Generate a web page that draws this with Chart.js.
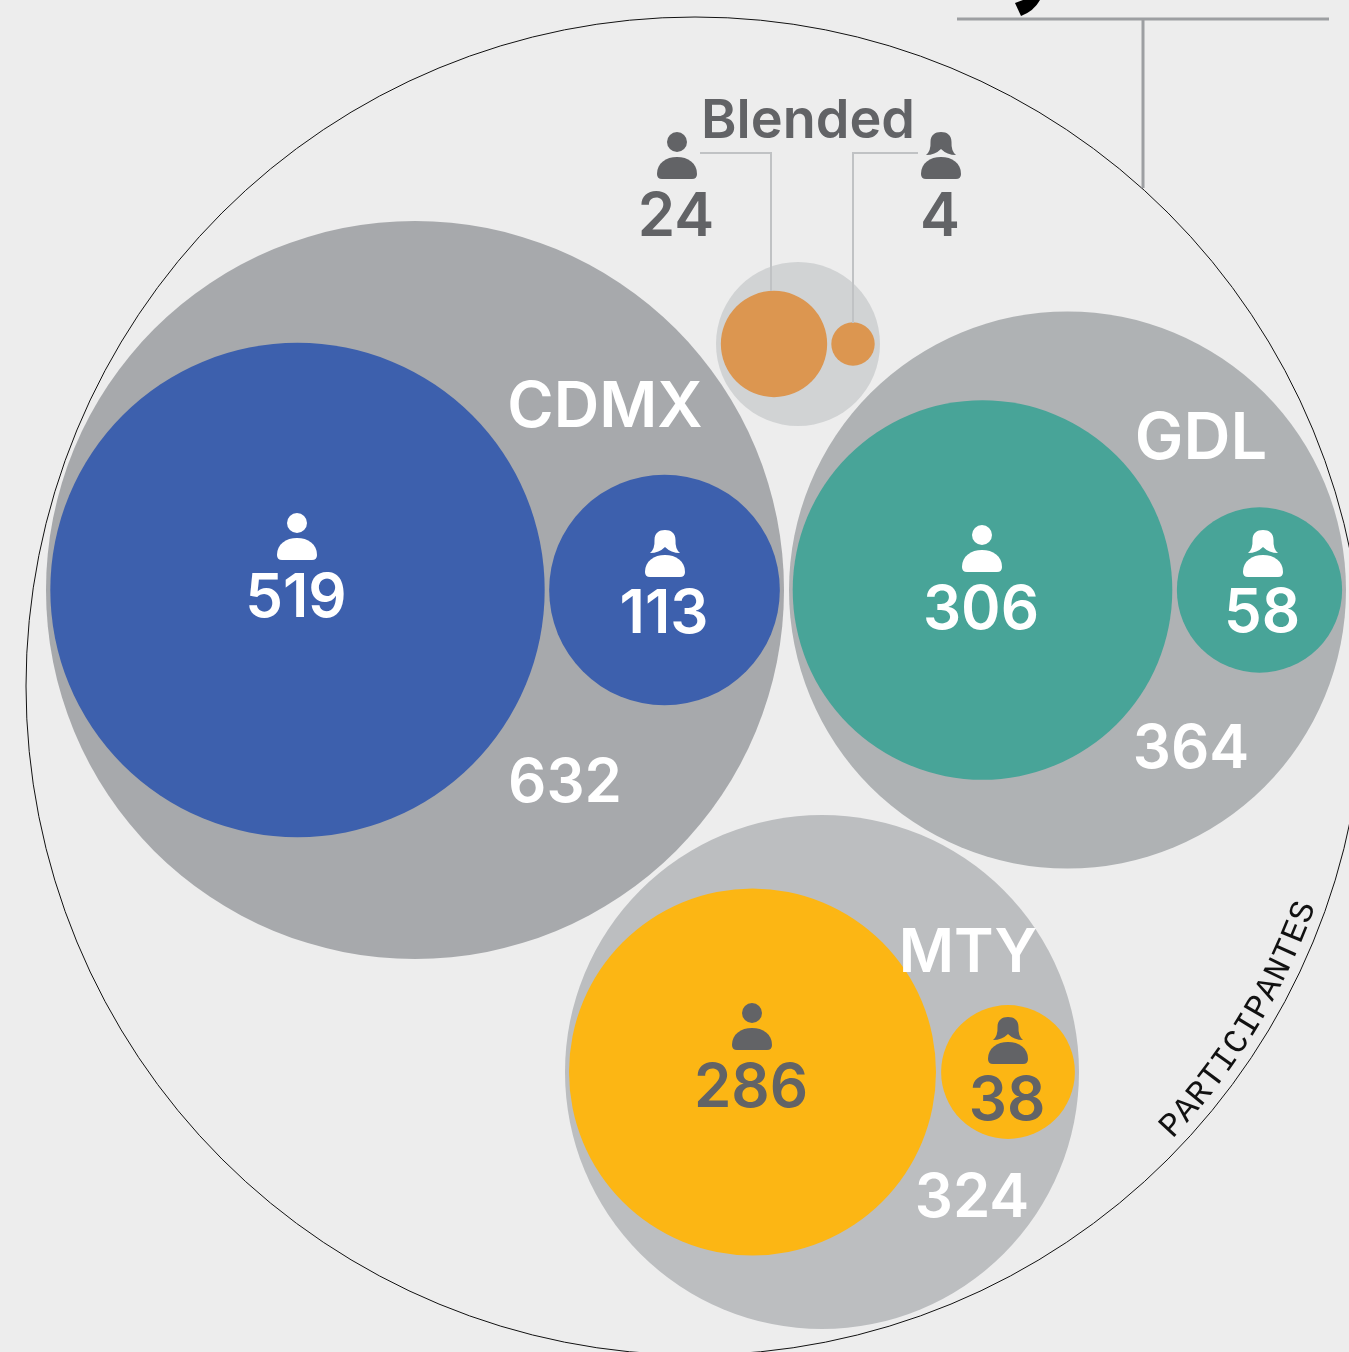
<!DOCTYPE html>
<html lang="es">
<head>
<meta charset="utf-8">
<title>Participantes</title>
<script src="https://cdn.jsdelivr.net/npm/chart.js@4"></script>
<style>
  html, body { margin: 0; padding: 0; background: #ededed; overflow: hidden; }
  canvas { display: block; }
</style>
</head>
<body>
<canvas id="bubbleChart" width="1349" height="1352"></canvas>
<script>
// Values
const groupNames = ['CDMX', 'GDL', 'MTY', 'Blended'];
const groupTotals = [632, 364, 324, 28];
const menValues = [519, 306, 286, 24];
const womenValues = [113, 58, 38, 4];

const groupX = [415, 1067.5, 822, 798];
const groupY = [590, 590, 1072, 344];
const groupRadius = [369, 278.5, 257, 82];
const menX = [297.5, 982.5, 752.5, 774];
const womenX = [664.5, 1259.5, 1008, 853];

const groupColors = ['#a7a9ac', '#afb2b4', '#bcbec0', '#d1d3d4'];
const innerColors = ['#3d60ad', '#48a498', '#fcb614', '#dc9650'];
const darkGray = '#626366';
const valueScale = 10.85;

function innerRadius(value) {
  return valueScale * Math.sqrt(value);
}

function innerPoints(xs, values) {
  return values.map((v, i) => ({ x: xs[i], y: groupY[i], r: innerRadius(v) }));
}

function innerDataset(xs, values, order) {
  return {
    type: 'bubble',
    data: innerPoints(xs, values),
    backgroundColor: innerColors,
    borderWidth: 0,
    order: order
  };
}

function leader(points, color, width) {
  return {
    type: 'line',
    data: points,
    borderColor: color,
    borderWidth: width,
    pointRadius: 0,
    fill: false,
    tension: 0,
    order: 1
  };
}

// Text labels: [text, x, y, color, size]
const textLabels = [
  ['519', 296, 596, '#ffffff', 60],
  ['113', 664, 612, '#ffffff', 60],
  ['306', 981, 608, '#ffffff', 60],
  ['58', 1262, 611, '#ffffff', 60],
  ['286', 751, 1086, darkGray, 60],
  ['38', 1007, 1099, darkGray, 60],
  ['632', 565, 781, '#ffffff', 60],
  ['364', 1191, 747, '#ffffff', 60],
  ['324', 972, 1196, '#ffffff', 60],
  [groupNames[0], 605, 405, '#ffffff', 63],
  [groupNames[1], 1201, 436, '#ffffff', 65],
  [groupNames[2], 968, 951, '#ffffff', 60],
  [groupNames[3], 808, 119, darkGray, 54],
  ['24', 676, 215, darkGray, 60],
  ['4', 940, 215, darkGray, 60]
];

// Person icons: [kind, centre x, top y, color]
const personIcons = [
  ['m', 297, 513, '#ffffff'],
  ['f', 665, 530, '#ffffff'],
  ['m', 982, 525, '#ffffff'],
  ['f', 1263, 530, '#ffffff'],
  ['m', 752, 1003, darkGray],
  ['f', 1008, 1017, darkGray],
  ['m', 677, 132, darkGray],
  ['f', 941, 132, darkGray]
];

function drawPerson(ctx, kind, cx, top, color) {
  ctx.fillStyle = color;
  // body
  ctx.beginPath();
  ctx.moveTo(cx - 20, top + 42);
  ctx.bezierCurveTo(cx - 20, top + 31, cx - 11, top + 25, cx, top + 25);
  ctx.bezierCurveTo(cx + 11, top + 25, cx + 20, top + 31, cx + 20, top + 42);
  ctx.quadraticCurveTo(cx + 20, top + 47, cx + 15, top + 47);
  ctx.lineTo(cx - 15, top + 47);
  ctx.quadraticCurveTo(cx - 20, top + 47, cx - 20, top + 42);
  ctx.fill();
  // head, women get hair flaring out at the shoulders
  ctx.beginPath();
  if (kind === 'm') {
    ctx.arc(cx, top + 10, 10, 0, Math.PI * 2);
  } else {
    ctx.moveTo(cx - 15, top + 23);
    ctx.quadraticCurveTo(cx - 10, top + 19, cx - 10.5, top + 10);
    ctx.bezierCurveTo(cx - 10.5, top + 3, cx - 6, top, cx, top);
    ctx.bezierCurveTo(cx + 6, top, cx + 10.5, top + 3, cx + 10.5, top + 10);
    ctx.quadraticCurveTo(cx + 10, top + 19, cx + 15, top + 23);
    ctx.quadraticCurveTo(cx + 6, top + 23, cx, top + 17);
    ctx.quadraticCurveTo(cx - 6, top + 23, cx - 15, top + 23);
    ctx.closePath();
  }
  ctx.fill();
}

const ringCenter = { x: 695, y: 686 };
const ringRadius = 669;

function drawCurvedTitle(ctx, text) {
  const startAngle = 42.6;
  const stepAngle = 1.85;
  const radius = 658;
  ctx.fillStyle = '#111111';
  ctx.font = '34px "Liberation Mono"';
  ctx.textAlign = 'center';
  ctx.textBaseline = 'alphabetic';
  text.split('').forEach((ch, i) => {
    const a = (startAngle - i * stepAngle) * Math.PI / 180;
    ctx.save();
    ctx.translate(ringCenter.x + radius * Math.cos(a), ringCenter.y + radius * Math.sin(a));
    ctx.rotate(a - Math.PI / 2);
    ctx.fillText(ch, 0, 0);
    ctx.restore();
  });
}

const overlayPlugin = {
  id: 'overlay',
  afterDraw(chart) {
    const ctx = chart.ctx;
    ctx.save();

    // Piece of a letter cut by the top of the picture
    ctx.fillStyle = '#000000';
    ctx.beginPath();
    ctx.moveTo(1015, 3);
    ctx.lineTo(1021, 16);
    ctx.quadraticCurveTo(1034, 11, 1040, 0);
    ctx.lineTo(1023, 0);
    ctx.closePath();
    ctx.fill();

    personIcons.forEach(p => drawPerson(ctx, p[0], p[1], p[2], p[3]));

    ctx.textAlign = 'center';
    ctx.textBaseline = 'middle';
    textLabels.forEach(l => {
      ctx.fillStyle = l[3];
      ctx.font = '600 ' + l[4] + 'px Inter';
      ctx.fillText(l[0], l[1], l[2] + 3);
    });

    drawCurvedTitle(ctx, 'PARTICIPANTES');
    ctx.restore();
  }
};

new Chart(document.getElementById('bubbleChart'), {
  type: 'bubble',
  data: {
    datasets: [
      leader([{ x: 700, y: 153 }, { x: 771, y: 153 }, { x: 771, y: 291 }], '#c0c2c4', 2),
      leader([{ x: 918, y: 153 }, { x: 853, y: 153 }, { x: 853, y: 323 }], '#c0c2c4', 2),
      leader([{ x: 957, y: 19 }, { x: 1329, y: 19 }], '#9d9fa2', 3),
      leader([{ x: 1143, y: 19 }, { x: 1143, y: 188 }], '#9d9fa2', 3),
      innerDataset(menX, menValues, 2),
      innerDataset(womenX, womenValues, 2),
      {
        type: 'bubble',
        data: groupTotals.map((t, i) => ({ x: groupX[i], y: groupY[i], r: groupRadius[i] })),
        backgroundColor: groupColors,
        borderWidth: 0,
        order: 3
      },
      {
        type: 'bubble',
        data: [{ x: ringCenter.x, y: ringCenter.y, r: ringRadius }],
        backgroundColor: 'rgba(0,0,0,0)',
        borderColor: '#111111',
        borderWidth: 1,
        order: 4
      }
    ]
  },
  options: {
    responsive: false,
    animation: false,
    // big bubbles would otherwise shrink the chart area
    layout: { padding: 0, autoPadding: false },
    plugins: {
      legend: { display: false },
      title: { display: false },
      tooltip: { enabled: false }
    },
    scales: {
      x: { type: 'linear', min: 0, max: 1349, display: false },
      y: { type: 'linear', min: 0, max: 1352, reverse: true, display: false }
    }
  },
  plugins: [overlayPlugin]
});
</script>
</body>
</html>
